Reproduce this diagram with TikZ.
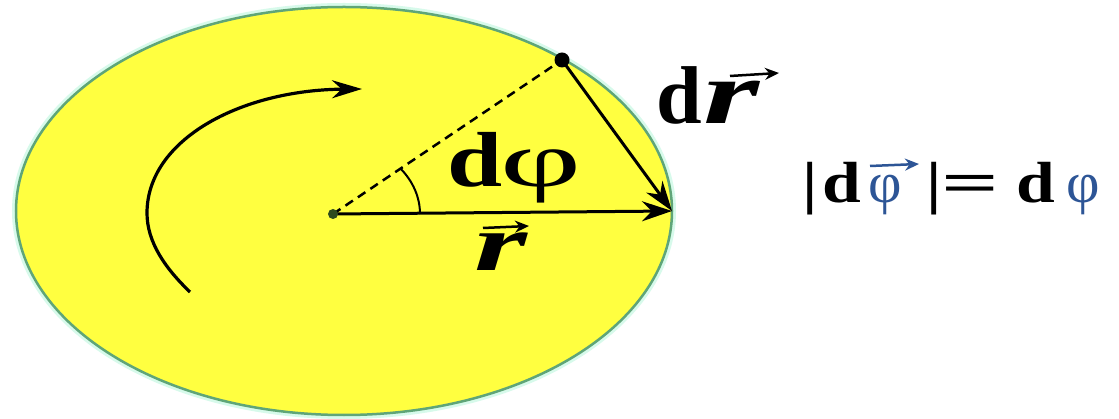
\documentclass[tikz,border=0pt]{standalone}
\usepackage{fontspec}
\setmainfont{Liberation Serif}
\usetikzlibrary{arrows.meta}
\definecolor{fillyellow}{RGB}{255,255,64}
\definecolor{rimgreen}{RGB}{95,165,120}
\definecolor{halo}{RGB}{215,250,235}
\definecolor{phiblue}{RGB}{45,85,150}
\definecolor{centergreen}{RGB}{45,75,30}
\newcommand{\slot}[2]{\makebox[#1][l]{#2}}
\begin{document}
\begin{tikzpicture}[x=1pt,y=-1pt,
  vecarrow/.style={line width=3pt,-{Stealth[length=30pt,width=20pt]}},
  accent/.style={line width=2.5pt,-{Stealth[length=14pt,width=12pt]}},
  lbl/.style={anchor=base west,inner sep=0pt,outer sep=0pt},
  dotnode/.style={circle,inner sep=0pt,fill=#1}]
\useasboundingbox (0,0) rectangle (1119,419);
\fill[white] (0,0) rectangle (1119,419);
% disc
\draw[halo,line width=8pt] (344,211) ellipse [x radius=328,y radius=204];
\draw[rimgreen,fill=fillyellow,line width=2.5pt] (344,211) ellipse [x radius=328,y radius=204];
% points
\coordinate (O) at (333,214);
\coordinate (P) at (562,60);
\coordinate (T) at (672,211);
% rotation arrow
\draw[line width=3.2pt,-{Stealth[length=30pt,width=18pt]}]
  (190,292) .. controls (165,268) and (147,242) .. (147,213)
            .. controls (147,140) and (240,90) .. (362,89);
% dashed radius
\draw[line width=2.5pt,dash pattern=on 9pt off 6pt] (O) -- (P);
% angle mark
\draw[line width=2pt] (O) ++(87,0) arc [start angle=0,end angle=-39,x radius=87,y radius=72];
% vectors
\draw[vecarrow] (O) -- (T);
\draw[vecarrow] (P) -- (T);
\node[dotnode=black,minimum size=15pt] (Pd) at (P) {};
\node[dotnode=centergreen,minimum size=10pt] (Od) at (O) {};
% labels
\node[lbl,font=\fontsize{78}{80}\selectfont] (dphi) at (447,187)
  {\scalebox{1.27}[1]{\textbf{d}}\hspace{-2pt}\scalebox{1.8}[1]{φ}};
\node[lbl,font=\fontsize{80}{84}\selectfont] (rlab) at (474,271)
  {\scalebox{1.7}[1]{\textbf{\textit{r}}}};
\draw[accent] (483,228) -- (529,226);
\node[lbl,font=\fontsize{82}{86}\selectfont] (drlab) at (656,124)
  {\textbf{d}\hspace{2pt}\fontsize{90}{92}\selectfont\scalebox{1.6}[1]{\textbf{\textit{r}}}};
\draw[accent] (730,76) -- (779,73);
\node[lbl,font=\fontsize{58}{60}\selectfont] (formula) at (802,203)
  {\slot{20pt}{\scalebox{1.2}[1]{\textbf{|}}}%
   \slot{46pt}{\scalebox{1.2}[1]{\textbf{d}}}%
   \slot{58pt}{\textcolor{phiblue}{φ}}%
   \slot{15pt}{\scalebox{1.2}[1]{\textbf{|}}}%
   \slot{75pt}{\scalebox{1.75}[1]{\textbf{=}}}%
   \slot{50pt}{\scalebox{1.2}[1]{\textbf{d}}}%
   \textcolor{phiblue}{φ}};
\draw[accent,phiblue] (870,166) -- (919,164);
\end{tikzpicture}
\end{document}
